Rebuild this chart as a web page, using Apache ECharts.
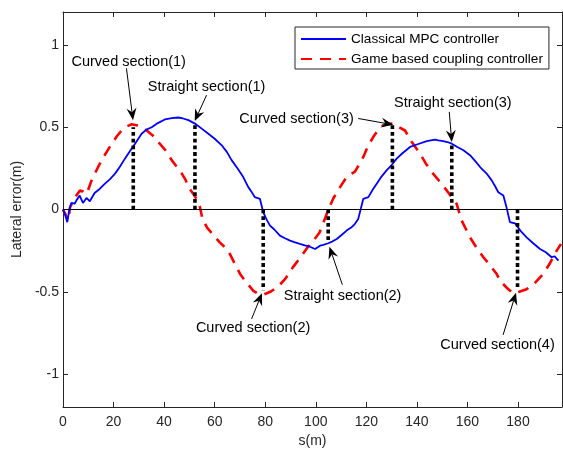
<!DOCTYPE html>
<html><head><meta charset="utf-8">
<script src="https://cdn.jsdelivr.net/npm/echarts@6/dist/echarts.min.js"></script>
<style>html,body{margin:0;padding:0;background:#fff}#c{width:563px;height:454px}</style>
</head><body><div id="c"></div>
<script>
const xTicks = [0,20,40,60,80,100,120,140,160,180];
const yTicks = [-1,-0.5,0,0.5,1];
const seriesNames = ['Classical MPC controller','Game based coupling controller'];
const blueS = [0,0.8,1.7,2.5,3.3,4.6,5.5,6.6,7.9,9.3,10.6,12.5,14.5,16.6,18.6,20.6,22.5,24.5,26.5,28.5,31.1,33,35.1,37.5,40.3,43,45.6,47.5,49.6,52.2,55,57.5,60,62.8,64.8,66.7,69,71.3,73.3,74.5,75.9,77.9,79.2,80.5,81.9,83.5,85.8,87.8,89.8,91.8,93.7,95.7,97.7,99.7,101.7,103,104.9,106.5,108.3,110.2,112.2,114,115.5,116.8,118.8,120.8,122.5,124.1,126,128,130,132,134.5,137.3,140,143.9,145.5,147.2,148.5,150.4,152,153.8,156,158.4,161,163,165,167.5,169.6,171,172.2,174.2,175.5,176.8,178.8,181,183.4,186,188.7,191,193.3,194.5,196];
const blueE = [0,-0.03,-0.077,0,0.04,0.035,0.06,0.085,0.04,0.07,0.05,0.1,0.125,0.157,0.185,0.218,0.26,0.309,0.355,0.4,0.46,0.485,0.5,0.525,0.547,0.555,0.559,0.553,0.543,0.522,0.49,0.46,0.43,0.39,0.35,0.3,0.25,0.197,0.136,0.11,0.075,0.065,-0.016,-0.06,-0.098,-0.12,-0.159,-0.175,-0.189,-0.2,-0.209,-0.218,-0.226,-0.24,-0.22,-0.215,-0.205,-0.195,-0.179,-0.155,-0.128,-0.11,-0.087,-0.057,0.065,0.075,0.12,0.157,0.2,0.238,0.27,0.309,0.345,0.38,0.395,0.415,0.42,0.425,0.42,0.415,0.41,0.4,0.38,0.36,0.33,0.295,0.258,0.22,0.177,0.14,0.105,0.085,0.01,-0.077,-0.084,-0.13,-0.169,-0.205,-0.24,-0.26,-0.29,-0.285,-0.31];
const redS = [0,1,2.1,2.8,4.1,5.5,6.7,8,9.4,11.3,13.3,15.3,17.3,19.3,21.3,23.2,25.2,27.2,29.1,31,33.1,35.5,37.7,40.5,43,45,47,48.5,49.6,51.5,53,54.2,55.2,57,59.5,62,64.1,66,68,70,72,75.3,77,79.2,82,85,88,91,94,96.5,99,101.5,103.5,105,107,109.6,112.2,114.2,115.5,118.8,120.5,122.7,124.5,126.7,128.5,130.7,133,135.3,138,141.2,143.5,146.4,149,151.8,153.5,155.7,157.7,161,163.5,166.3,169,171.5,172.9,175.5,178.1,180.5,183.4,186.5,190,192.5,195.3,197];
const redE = [0,-0.03,-0.067,0.014,0.055,0.09,0.116,0.11,0.095,0.177,0.24,0.3,0.35,0.4,0.445,0.48,0.505,0.518,0.512,0.5,0.48,0.45,0.41,0.36,0.3,0.26,0.218,0.18,0.136,0.095,0.06,0.014,-0.06,-0.11,-0.155,-0.2,-0.23,-0.27,-0.331,-0.39,-0.433,-0.494,-0.51,-0.518,-0.5,-0.47,-0.42,-0.35,-0.29,-0.235,-0.19,-0.14,-0.06,0,0.07,0.136,0.197,0.218,0.23,0.319,0.38,0.44,0.48,0.512,0.52,0.522,0.5,0.48,0.41,0.34,0.28,0.218,0.17,0.116,0.08,0.035,-0.067,-0.169,-0.23,-0.29,-0.34,-0.39,-0.433,-0.475,-0.51,-0.5,-0.484,-0.45,-0.39,-0.33,-0.25,-0.21];
const markS = [27.8,52.2,79.2,104.9,130.3,153.8,179.8];
const markE = [0.5,0.52,-0.49,-0.19,0.52,0.40,-0.48];
const annText = ['Curved section(1)','Straight section(1)','Curved section(3)','Straight section(3)','Straight section(2)','Curved section(2)','Curved section(4)'];
const annTextS = [26.0,56.8,92.4,154.2,110.6,75.2,171.9];
const annTextE = [0.896,0.744,0.547,0.645,-0.524,-0.72,-0.823];
const annFromS = [25.1,56.8,116.8,152.8,110.5,74.6,174.1];
const annFromE = [0.858,0.695,0.553,0.593,-0.457,-0.665,-0.762];
const annToS = [27.7,52.1,130.6,153.8,105.4,78.7,179.2];
const annToE = [0.543,0.537,0.515,0.41,-0.226,-0.509,-0.506];

const FONT = "'Liberation Sans', Arial, Helvetica, sans-serif";
const AX = '#262626';
const zip = (a,b) => a.map((v,i)=>[v,b[i]]);
const chart = echarts.init(document.getElementById('c'), null, {renderer:'canvas'});

const series = [
  {name: seriesNames[0], type:'line', data: zip(blueS,blueE), symbol:'none', showSymbol:false, z:4,
   lineStyle:{color:'#0000ff', width:1.8}, itemStyle:{color:'#0000ff'}, animation:false,
   markLine:{silent:true, symbol:['none','none'], label:{show:false}, animation:false,
     lineStyle:{color:'#000', width:1, type:'solid'}, data:[{yAxis:0}]}},
  {name: seriesNames[1], type:'line', data: zip(redS,redE), symbol:'none', showSymbol:false, z:3,
   lineStyle:{color:'#ff0000', width:2.6, type:[11,8], cap:'butt'}, itemStyle:{color:'#ff0000'}, animation:false}
];
markS.forEach((s,i)=>{
  series.push({type:'line', data:[[s,0],[s,markE[i]]], symbol:'none', z:5, animation:false, silent:true,
    lineStyle:{color:'#000', width:3.6, type:[3.8,2.9], cap:'butt'}});
});

const axisCommon = {
  axisLine:{show:true, onZero:false, lineStyle:{color:AX, width:1}},
  splitLine:{show:false},
};
chart.setOption({
  animation:false,
  grid:{left:63, right:1, top:12, bottom:47, containLabel:false},
  legend:{data:seriesNames, left:295, top:27, orient:'vertical', itemWidth:45, itemHeight:14, itemGap:6,
    padding:[5,6,3,5], borderColor:'#262626', borderWidth:1, backgroundColor:'#fff',
    itemStyle:{color:'rgba(0,0,0,0)', borderColor:'rgba(0,0,0,0)', borderWidth:0},
    textStyle:{fontSize:13.6, fontFamily:FONT, color:'#000'}, selectedMode:false},
  xAxis:[
    Object.assign({type:'value', min:0, max:197.4, position:'bottom', name:'s(m)', nameLocation:'middle', nameGap:24,
      nameTextStyle:{fontSize:14, fontFamily:FONT, color:AX},
      axisTick:{inside:true, length:5, customValues:xTicks, lineStyle:{color:AX}},
      axisLabel:{customValues:xTicks, fontSize:14, fontFamily:FONT, color:AX, margin:8}}, axisCommon),
    Object.assign({type:'value', min:0, max:197.4, position:'top',
      axisTick:{inside:true, length:5, customValues:xTicks, lineStyle:{color:AX}},
      axisLabel:{show:false}}, axisCommon)
  ],
  yAxis:[
    Object.assign({type:'value', min:-1.2, max:1.2, position:'left', name:'Lateral error(m)', nameLocation:'middle', nameGap:38,
      nameTextStyle:{fontSize:14, fontFamily:FONT, color:AX},
      axisTick:{inside:true, length:5, customValues:yTicks, lineStyle:{color:AX}},
      axisLabel:{customValues:yTicks, fontSize:14, fontFamily:FONT, color:AX, margin:4, formatter:v=>String(v)}}, axisCommon),
    Object.assign({type:'value', min:-1.2, max:1.2, position:'right',
      axisTick:{inside:true, length:5, customValues:yTicks, lineStyle:{color:AX}},
      axisLabel:{show:false}}, axisCommon)
  ],
  series: series
});

// annotations: text + arrows placed via the chart's own scales
const P = (s,e) => chart.convertToPixel({xAxisIndex:0, yAxisIndex:0}, [s,e]);
const g = [];
annText.forEach((t,i)=>{
  const tp = P(annTextS[i], annTextE[i]);
  const a = P(annFromS[i], annFromE[i]);
  const b = P(annToS[i], annToE[i]);
  g.push({type:'text', z:20, style:{text:t, x:tp[0], y:tp[1], align:'center', verticalAlign:'middle',
    font:"14.5px " + FONT, fill:'#000'}});
  const dx = b[0]-a[0], dy = b[1]-a[1];
  const L = Math.hypot(dx,dy), ux = dx/L, uy = dy/L, nx = -uy, ny = ux;
  const hl = 12, hw = 5, notch = 8;
  const base = [b[0]-ux*hl, b[1]-uy*hl];
  const nb = [b[0]-ux*notch, b[1]-uy*notch];
  g.push({type:'line', z:20, shape:{x1:a[0], y1:a[1], x2:nb[0], y2:nb[1]}, style:{stroke:'#000', lineWidth:1}});
  g.push({type:'polygon', z:21, shape:{points:[[b[0],b[1]],[base[0]+nx*hw, base[1]+ny*hw],[nb[0],nb[1]],[base[0]-nx*hw, base[1]-ny*hw]]},
    style:{fill:'#000'}});
});
chart.setOption({graphic:g});
</script></body></html>
